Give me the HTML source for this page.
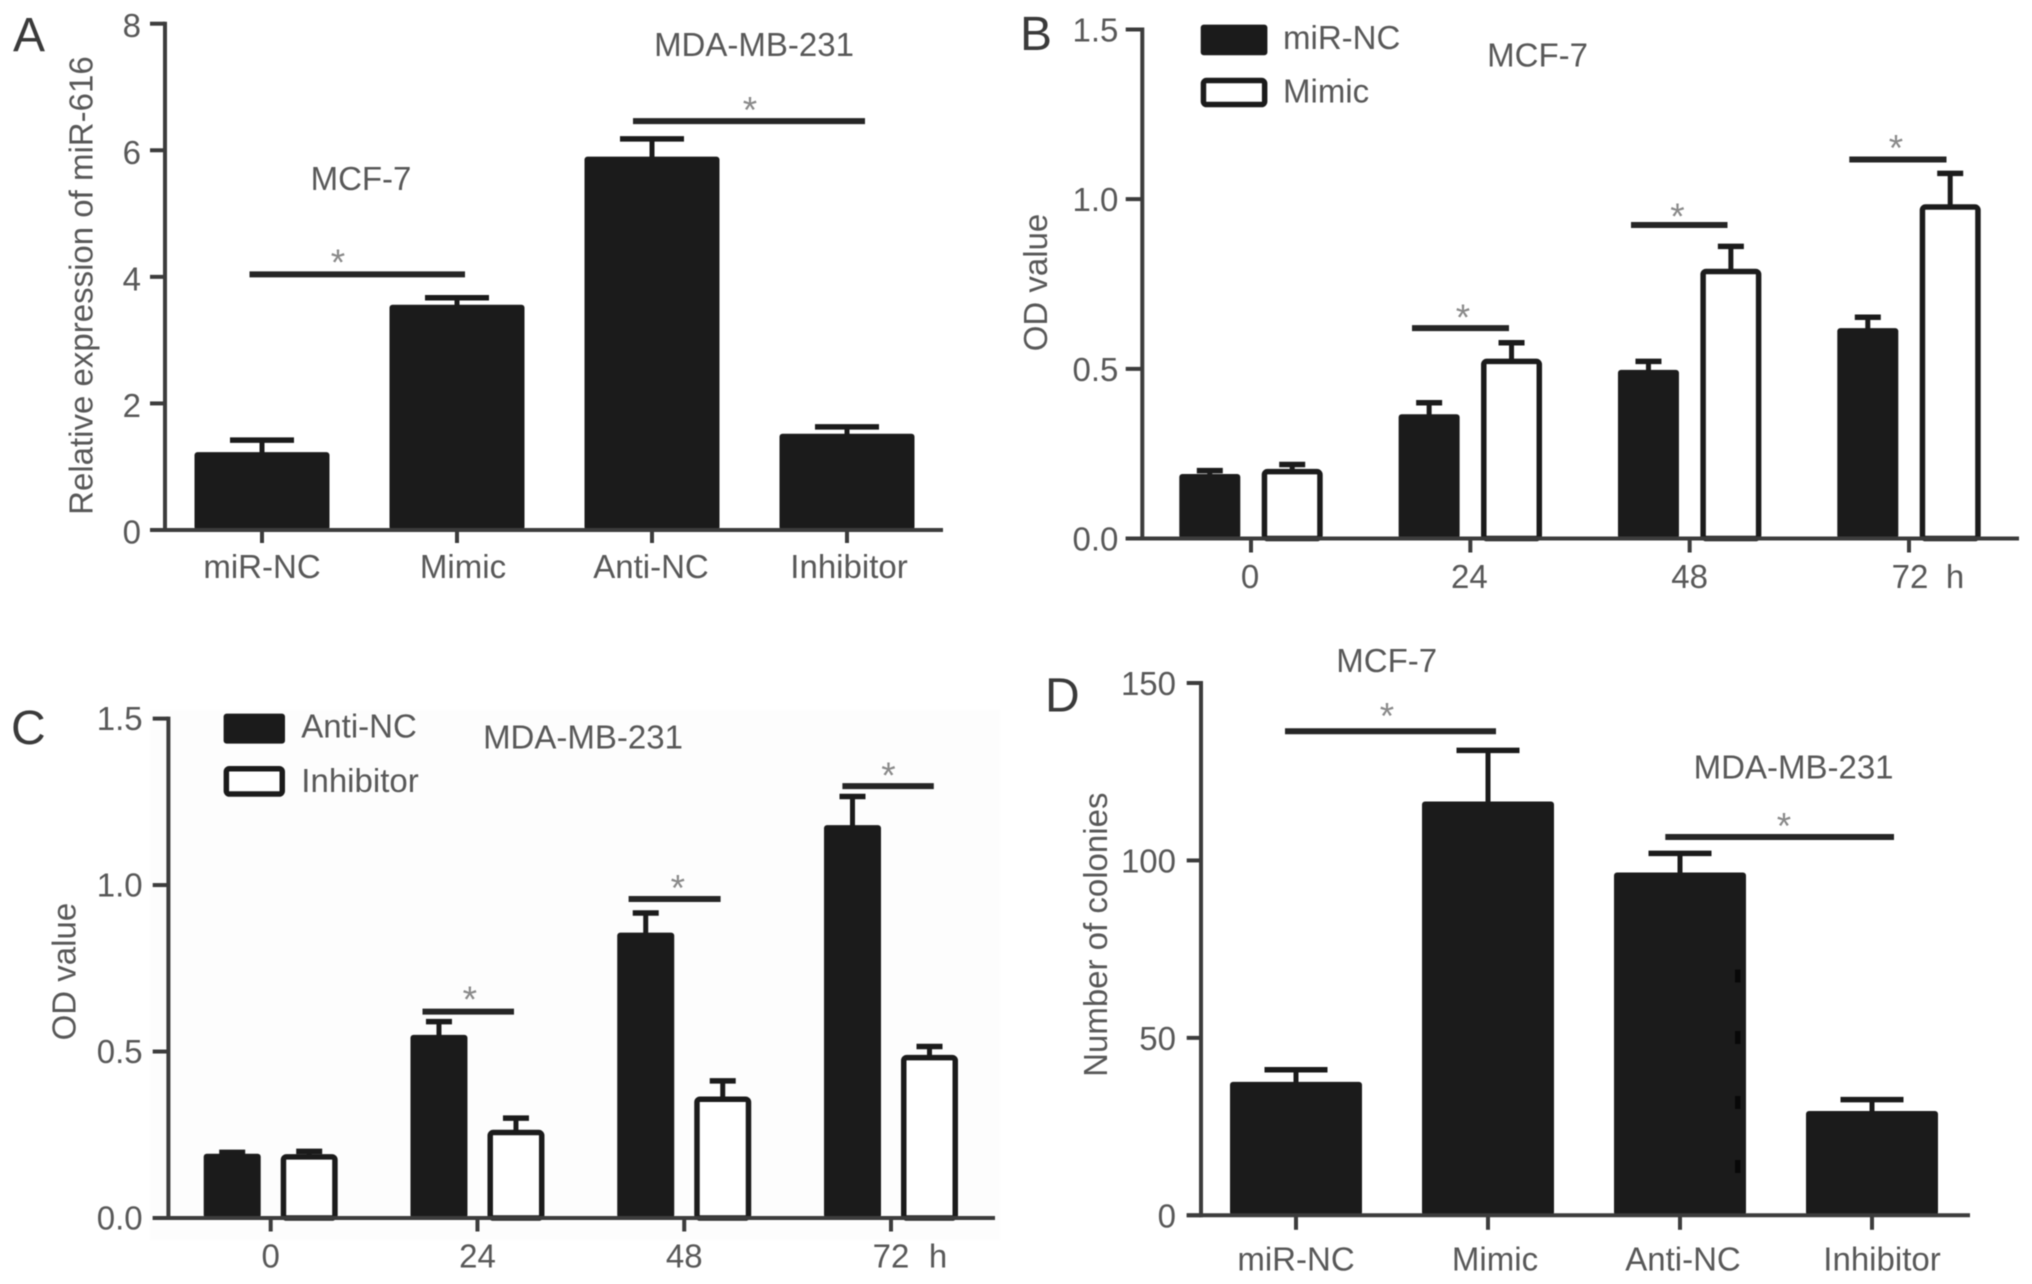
<!DOCTYPE html>
<html lang="en">
<head>
<meta charset="utf-8">
<title>miR-616 expression, OD value and colony panels</title>
<style>
  html, body { margin: 0; padding: 0; background: #ffffff; }
  #figure { display: block; width: 2032px; height: 1284px; filter: blur(0.6px); }
  text { font-family: "Liberation Sans", sans-serif; font-size: 33px; fill: #585858; }
</style>
</head>
<body>
<svg id="figure" xmlns="http://www.w3.org/2000/svg" width="2032" height="1284" viewBox="0 0 2032 1284"></svg>
<script>
// ---------- Panel A data ----------
const panelACategories = ['miR-NC', 'Mimic', 'Anti-NC', 'Inhibitor'];
const panelAValues = [1.23, 3.56, 5.90, 1.52];
const panelAErrorTops = [1.42, 3.67, 6.18, 1.63];
const panelATicks = [0, 2, 4, 6, 8];
const panelATickLabels = ['0', '2', '4', '6', '8'];
const panelASigLevels = [4.04, 6.46];

// ---------- Panel B data ----------
const panelBCategories = ['0', '24', '48', '72'];
const panelBControl = [0.19, 0.366, 0.497, 0.62];
const panelBControlErrorTops = [0.20, 0.40, 0.522, 0.652];
const panelBTreated = [0.205, 0.53, 0.795, 0.985];
const panelBTreatedErrorTops = [0.218, 0.577, 0.861, 1.076];
const panelBTicks = [0, 0.5, 1, 1.5];
const panelBTickLabels = ['0.0', '0.5', '1.0', '1.5'];
const panelBSigLevels = [0.62, 0.924, 1.117];

// ---------- Panel C data ----------
const panelCCategories = ['0', '24', '48', '72'];
const panelCControl = [0.193, 0.55, 0.857, 1.18];
const panelCControlErrorTops = [0.197, 0.59, 0.916, 1.266];
const panelCTreated = [0.192, 0.265, 0.365, 0.49];
const panelCTreatedErrorTops = [0.20, 0.30, 0.412, 0.515];
const panelCTicks = [0, 0.5, 1, 1.5];
const panelCTickLabels = ['0.0', '0.5', '1.0', '1.5'];
const panelCSigLevels = [0.62, 0.958, 1.297];

// ---------- Panel D data ----------
const panelDCategories = ['miR-NC', 'Mimic', 'Anti-NC', 'Inhibitor'];
const panelDValues = [37.6, 116.6, 96.6, 29.4];
const panelDErrorTops = [41, 131, 102, 32.6];
const panelDTicks = [0, 50, 100, 150];
const panelDTickLabels = ['0', '50', '100', '150'];
const panelDSigLevels = [136.4, 106.6];

const SVG_NS = 'http://www.w3.org/2000/svg';
const INK = '#1b1b1b';
const AXIS = '#3c3c3c';
const figure = document.getElementById('figure');

function linear(d0, d1, r0, r1) {
  return function (v) { return r0 + (v - d0) * (r1 - r0) / (d1 - d0); };
}

function makeGroup(parent, name) {
  const g = document.createElementNS(SVG_NS, 'g');
  
  
  parent.appendChild(g);
  return g;
}

function line(parent, name, x1, y1, x2, y2, width, color) {
  const el = document.createElementNS(SVG_NS, 'line');
  
  
  el.setAttribute('x1', x1);
  el.setAttribute('y1', y1);
  el.setAttribute('x2', x2);
  el.setAttribute('y2', y2);
  el.setAttribute('stroke', color);
  el.setAttribute('stroke-width', width);
  parent.appendChild(el);
  return el;
}

function label(parent, name, str, x, y, anchor, rotate) {
  const el = document.createElementNS(SVG_NS, 'text');
  
  
  el.setAttribute('x', x);
  el.setAttribute('y', y);
  el.setAttribute('text-anchor', anchor || 'middle');
  if (rotate) { el.setAttribute('transform', 'rotate(' + rotate + ' ' + x + ' ' + y + ')'); }
  el.textContent = str;
  parent.appendChild(el);
  return el;
}

function panelLetter(parent, str, x, y) {
  const el = label(parent, 'panel-letter-' + str.toLowerCase(), str, x, y, 'start');
  el.setAttribute('style', 'font-size:48px;fill:#3a3a3a');
  return el;
}

function solidBar(parent, name, xLeft, width, yTop, yBase) {
  const el = document.createElementNS(SVG_NS, 'rect');
  
  
  el.setAttribute('x', xLeft);
  el.setAttribute('y', yTop);
  el.setAttribute('width', width);
  el.setAttribute('height', yBase - yTop);
  el.setAttribute('rx', 3);
  el.setAttribute('fill', INK);
  parent.appendChild(el);
  return el;
}

function hollowBar(parent, name, xLeft, width, yTop, yBase) {
  const el = document.createElementNS(SVG_NS, 'rect');
  
  
  el.setAttribute('x', xLeft + 2.75);
  el.setAttribute('y', yTop + 2.75);
  el.setAttribute('width', width - 5.5);
  el.setAttribute('height', yBase - yTop - 2.75);
  el.setAttribute('rx', 3);
  el.setAttribute('fill', '#ffffff');
  el.setAttribute('stroke', INK);
  el.setAttribute('stroke-width', 5.5);
  parent.appendChild(el);
  return el;
}

function errorBar(parent, name, xCenter, yBar, yCap, capWidth) {
  const g = makeGroup(parent, name);
  line(g, name + '-stem', xCenter, yBar + 2, xCenter, yCap, 5, INK);
  line(g, name + '-cap', xCenter - capWidth / 2, yCap, xCenter + capWidth / 2, yCap, 5.5, INK);
}

function sigBracket(parent, name, x1, x2, y, starX, starY) {
  const g = makeGroup(parent, name);
  line(g, name + '-line', x1, y, x2, y, 6, '#262626');
  const star = label(g, name + '-star', '*', starX, starY + 17);
  star.setAttribute('style', 'font-size:37px;fill:#8a8a8a');
}

function axes(parent, o) {
  const g = makeGroup(parent, o.name + '-axes');
  line(g, o.name + '-y-axis', o.axisX, o.y(o.ticks[o.ticks.length - 1]) - 2, o.axisX, o.y(0) + 2, 4, AXIS);
  line(g, o.name + '-x-axis', o.tickLeft, o.y(0), o.xEnd, o.y(0), 4, AXIS);
  o.ticks.forEach(function (t, i) {
    line(g, o.name + '-y-tick-' + o.tickLabels[i], o.tickLeft, o.y(t), o.axisX, o.y(t), 4, AXIS);
    label(g, o.name + '-y-tick-label-' + o.tickLabels[i], o.tickLabels[i], o.labelRight, o.y(t) + o.tickDy, 'end');
  });
  o.categories.forEach(function (c, i) {
    line(g, o.name + '-x-tick-' + c, o.x(i), o.y(0), o.x(i), o.y(0) + o.tickLen, 4, AXIS);
    label(g, o.name + '-x-label-' + c, c, o.x(i) + o.labelDx[i], o.xLabelY);
  });
  label(g, o.name + '-y-axis-title', o.title, o.titleX, o.titleY, 'middle', -90);
}

function legendEntry(parent, name, filled, x, y, w, h, str, textX, textY) {
  const g = makeGroup(parent, name);
  if (filled) { solidBar(g, name + '-swatch', x, w, y, y + h); }
  else {
    const r = hollowBar(g, name + '-swatch', x, w, y, y + h);
    r.setAttribute('height', h - 5.5);
  }
  label(g, name + '-label', str, textX, textY, 'start');
}

// ---------- Panel A ----------
(function () {
  const p = makeGroup(figure, 'panel-a');
  const y = linear(0, 8, 530, 23.7);
  const x = linear(0, 3, 262, 847);
  const barW = 135;
  panelLetter(p, 'A', 13, 51);
  panelACategories.forEach(function (c, i) {
    errorBar(p, 'panel-a-error-' + c, x(i), y(panelAValues[i]), y(panelAErrorTops[i]), 64);
    solidBar(p, 'panel-a-bar-' + c, x(i) - barW / 2, barW, y(panelAValues[i]), y(0));
  });
  axes(p, { name: 'panel-a', axisX: 165, tickLeft: 150, xEnd: 943, tickLen: 13, tickDy: 13.5, y: y, x: x,
    ticks: panelATicks, tickLabels: panelATickLabels, categories: panelACategories,
    labelDx: [0, 6, -1, 2], labelRight: 141, xLabelY: 578,
    title: 'Relative expression of miR-616', titleX: 92.5, titleY: 285.6 });
  label(p, 'panel-a-mcf7-label', 'MCF-7', 361, 190);
  label(p, 'panel-a-mda-label', 'MDA-MB-231', 754, 56);
  sigBracket(p, 'panel-a-sig-mcf7', 249.5, 465, y(panelASigLevels[0]), 338, 258);
  sigBracket(p, 'panel-a-sig-mda', 633, 865, y(panelASigLevels[1]), 750, 105.6);
})();

// ---------- Panel B ----------
(function () {
  const p = makeGroup(figure, 'panel-b');
  const y = linear(0, 1.5, 538.5, 29.5);
  const x = linear(0, 3, 1251, 1909);
  const barW = 61, off = 41.2;
  panelLetter(p, 'B', 1020, 50);
  panelBCategories.forEach(function (c, i) {
    errorBar(p, 'panel-b-error-mir-nc-' + c, x(i) - off, y(panelBControl[i]), y(panelBControlErrorTops[i]), 26);
    errorBar(p, 'panel-b-error-mimic-' + c, x(i) + off, y(panelBTreated[i]), y(panelBTreatedErrorTops[i]), 26);
    solidBar(p, 'panel-b-bar-mir-nc-' + c, x(i) - off - barW / 2, barW, y(panelBControl[i]), y(0));
    hollowBar(p, 'panel-b-bar-mimic-' + c, x(i) + off - barW / 2, barW, y(panelBTreated[i]), y(0));
  });
  axes(p, { name: 'panel-b', axisX: 1142.3, tickLeft: 1125.7, xEnd: 2019, tickLen: 14, tickDy: 12, y: y, x: x,
    ticks: panelBTicks, tickLabels: panelBTickLabels, categories: panelBCategories,
    labelDx: [-1, -1, 0, 1], labelRight: 1118.4, xLabelY: 588,
    title: 'OD value', titleX: 1047, titleY: 282.5 });
  label(p, 'panel-b-hours-unit', 'h', 1955, 588);
  legendEntry(p, 'panel-b-legend-mir-nc', true, 1200.7, 24.6, 66.7, 30.7, 'miR-NC', 1283, 49);
  legendEntry(p, 'panel-b-legend-mimic', false, 1200.7, 77.8, 66.7, 29.5, 'Mimic', 1283, 102.4);
  label(p, 'panel-b-cell-line-label', 'MCF-7', 1537.6, 66.7);
  [[1412, 1509, 1463, 313], [1631, 1727.5, 1677.5, 212], [1849.3, 1946.5, 1896, 143.3]].forEach(function (b, i) {
    sigBracket(p, 'panel-b-sig-' + panelBCategories[i + 1], b[0], b[1], y(panelBSigLevels[i]), b[2], b[3]);
  });
})();

// ---------- Panel C ----------
(function () {
  const p = makeGroup(figure, 'panel-c');
  const bg = document.createElementNS(SVG_NS, 'rect');
  
  
  bg.setAttribute('x', 150);
  bg.setAttribute('y', 710);
  bg.setAttribute('width', 850);
  bg.setAttribute('height', 530);
  bg.setAttribute('fill', '#fdfdfd');
  p.appendChild(bg);
  const y = linear(0, 1.5, 1218, 718.6);
  const x = linear(0, 3, 270.7, 891);
  const barW = 57, off = 38.5;
  panelLetter(p, 'C', 11, 744);
  panelCCategories.forEach(function (c, i) {
    errorBar(p, 'panel-c-error-anti-nc-' + c, x(i) - off, y(panelCControl[i]), y(panelCControlErrorTops[i]), 26);
    errorBar(p, 'panel-c-error-inhibitor-' + c, x(i) + off, y(panelCTreated[i]), y(panelCTreatedErrorTops[i]), 26);
    solidBar(p, 'panel-c-bar-anti-nc-' + c, x(i) - off - barW / 2, barW, y(panelCControl[i]), y(0));
    hollowBar(p, 'panel-c-bar-inhibitor-' + c, x(i) + off - barW / 2, barW, y(panelCTreated[i]), y(0));
  });
  axes(p, { name: 'panel-c', axisX: 168.4, tickLeft: 152.7, xEnd: 995, tickLen: 13.5, tickDy: 11.5, y: y, x: x,
    ticks: panelCTicks, tickLabels: panelCTickLabels, categories: panelCCategories,
    labelDx: [0, 0, 0, 0], labelRight: 142.6, xLabelY: 1267.3,
    title: 'OD value', titleX: 75.5, titleY: 971.6 });
  label(p, 'panel-c-hours-unit', 'h', 938, 1267.3);
  legendEntry(p, 'panel-c-legend-anti-nc', true, 223.6, 713.6, 61.4, 30, 'Anti-NC', 301.3, 737.4);
  legendEntry(p, 'panel-c-legend-inhibitor', false, 223.6, 766, 61.4, 30.8, 'Inhibitor', 301.3, 792.2);
  label(p, 'panel-c-cell-line-label', 'MDA-MB-231', 583, 748.4);
  [[422.5, 514, 469.8, 995], [628.6, 720.6, 677.8, 883.5], [842.4, 933.8, 888.4, 771]].forEach(function (b, i) {
    sigBracket(p, 'panel-c-sig-' + panelCCategories[i + 1], b[0], b[1], y(panelCSigLevels[i]), b[2], b[3]);
  });
})();

// ---------- Panel D ----------
(function () {
  const p = makeGroup(figure, 'panel-d');
  const y = linear(0, 150, 1215.3, 683);
  const x = linear(0, 3, 1296, 1872);
  const barW = 132;
  panelLetter(p, 'D', 1045, 711.6);
  panelDCategories.forEach(function (c, i) {
    errorBar(p, 'panel-d-error-' + c, x(i), y(panelDValues[i]), y(panelDErrorTops[i]), 63);
    solidBar(p, 'panel-d-bar-' + c, x(i) - barW / 2, barW, y(panelDValues[i]), y(0));
  });
  [969.5, 1031, 1096, 1160].forEach(function (top, i) {
    const mark = document.createElementNS(SVG_NS, 'rect');
    
    
    mark.setAttribute('x', 1735);
    mark.setAttribute('y', top);
    mark.setAttribute('width', 5.5);
    mark.setAttribute('height', 13);
    mark.setAttribute('fill', '#080808');
    p.appendChild(mark);
  });
  axes(p, { name: 'panel-d', axisX: 1201, tickLeft: 1186.7, xEnd: 1970, tickLen: 14.5, tickDy: 12, y: y, x: x,
    ticks: panelDTicks, tickLabels: panelDTickLabels, categories: panelDCategories,
    labelDx: [0, 7, 3, 10], labelRight: 1176, xLabelY: 1270.7,
    title: 'Number of colonies', titleX: 1107, titleY: 934.7 });
  label(p, 'panel-d-mcf7-label', 'MCF-7', 1386.7, 672);
  label(p, 'panel-d-mda-label', 'MDA-MB-231', 1793.6, 778.3);
  sigBracket(p, 'panel-d-sig-mcf7', 1285, 1496, y(panelDSigLevels[0]), 1387, 711.6);
  sigBracket(p, 'panel-d-sig-mda', 1665.3, 1894, y(panelDSigLevels[1]), 1784, 821.3);
})();
</script>
</body>
</html>
